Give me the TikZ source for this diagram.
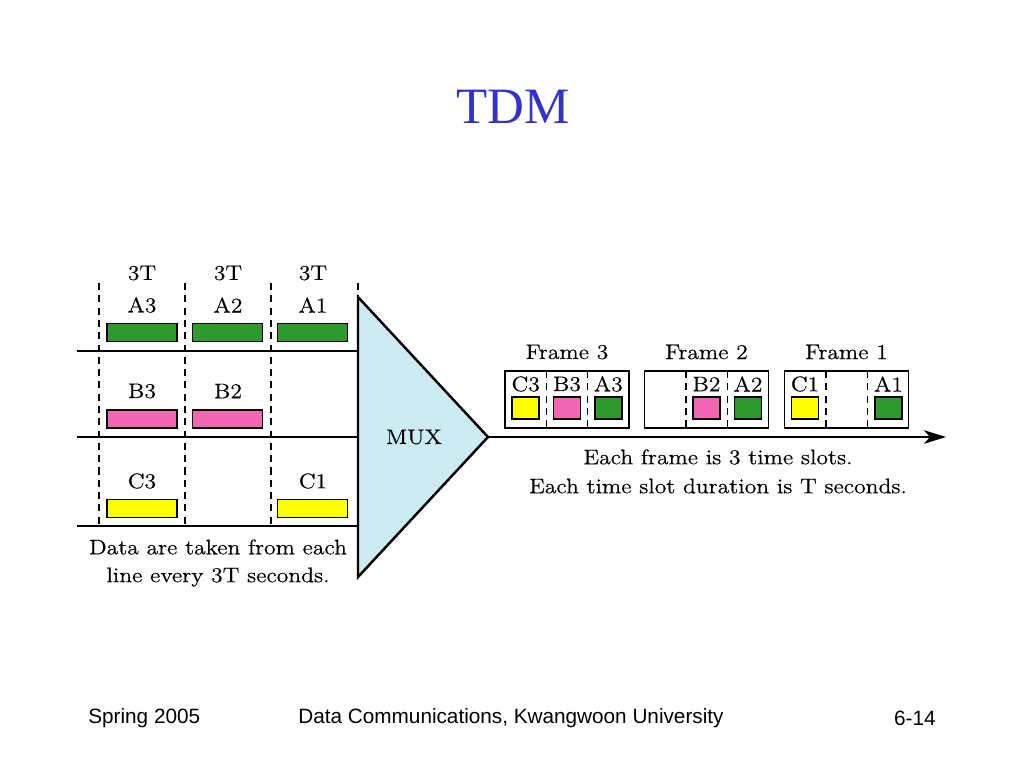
\documentclass[tikz,border=0pt]{standalone}
\usepackage{fontspec}
\newfontfamily\titlefont{Liberation Serif}
\newfontfamily\footfont{Liberation Sans}
\newfontfamily\labelfont{Latin Modern Roman}[FakeStretch=1.12, FakeBold=0.5]
\usetikzlibrary{arrows.meta,positioning}
\definecolor{slotgreen}{HTML}{2E9A2E}
\definecolor{slotpink}{HTML}{F266B3}
\definecolor{slotyellow}{HTML}{FFFF00}
\definecolor{muxblue}{HTML}{CCEBF2}
\definecolor{titleblue}{HTML}{3333CC}

\tikzset{
	lbl/.style={font=\labelfont\fontsize{12}{17}\selectfont, inner sep=0pt},
	bar/.style={draw, line width=0.9pt, minimum width=1.4cm, minimum height=0.36cm, inner sep=0pt},
	cell/.style={draw, line width=0.9pt, minimum width=0.54cm, minimum height=0.44cm, inner sep=0pt},
	framebox/.style={draw, line width=0.9pt, minimum width=2.48cm, minimum height=1.14cm, inner sep=0pt},
	tick/.style={line width=0.8pt, dash pattern=on 4pt off 3pt},
	wire/.style={line width=1.4pt},
	foot/.style={font=\footfont\fontsize{11.8}{14}\selectfont, inner sep=0pt}
}

\begin{document}
\begin{tikzpicture}[x=0.02cm,y=-0.02cm]
	\useasboundingbox (0,0) rectangle (1024,768);
	\node[font=\titlefont\fontsize{29}{34}\selectfont, text=titleblue] (title) at (513,107) {TDM};

	% input side
	\draw[tick] (99,283)--(99,526);
	\draw[tick] (185,283)--(185,526);
	\draw[tick] (271,283)--(271,526);
	\draw[tick] (358,283)--(358,297);
	\node[lbl] (t3) at (142,273) {3T};
	\node[lbl] (t2) at (228,273) {3T};
	\node[lbl] (t1) at (313,273) {3T};

	\node[lbl] (la3) at (142,305) {A3};
	\node[lbl] (la2) at (228,305) {A2};
	\node[lbl] (la1) at (313,305) {A1};
	\node[bar, fill=slotgreen] (a3) at (142,332.5) {};
	\node[bar, fill=slotgreen] (a2) at (227.5,332.5) {};
	\node[bar, fill=slotgreen] (a1) at (312.5,332.5) {};

	\node[lbl] (lb3) at (142,391) {B3};
	\node[lbl] (lb2) at (228,391) {B2};
	\node[bar, fill=slotpink] (b3) at (142,419) {};
	\node[bar, fill=slotpink] (b2) at (227.5,419) {};

	\node[lbl] (lc3) at (142,481) {C3};
	\node[lbl] (lc1) at (313,481) {C1};
	\node[bar, fill=slotyellow] (c3) at (142,508.5) {};
	\node[bar, fill=slotyellow] (c1) at (312.5,508.5) {};

	\node[lbl] (note1) at (218,547) {Data are taken from each};
	\node[lbl] (note2) at (218,577) {line every 3T seconds.};

	% mux
	\coordinate (muxtop) at (358,297);
	\coordinate (muxtip) at (488,437);
	\coordinate (muxbot) at (358,577);
	\coordinate (ina) at (77,351);
	\coordinate (inb) at (77,437);
	\coordinate (inc) at (77,526);
	\draw[wire] (ina)--(ina -| muxtop);
	\draw[wire] (inb)--(inb -| muxtop);
	\draw[wire] (inc)--(inc -| muxtop);
	\draw[wire, fill=muxblue, line join=miter] (muxtop)--(muxtip)--(muxbot)--cycle;
	\node[lbl] (mux) at (414,437) {MUX};

	% output side
	\coordinate (outend) at (946,437);
	\draw[wire, -{Stealth[length=0.44cm, width=0.27cm, inset=0.12cm]}] (muxtip)--(outend);

	\node[framebox] (f3) at (567,399.5) {};
	\node[framebox] (f2) at (706.5,399.5) {};
	\node[framebox] (f1) at (846.5,399.5) {};
	\node[lbl] (lf3) at (567,352) {Frame 3};
	\node[lbl] (lf2) at (706.5,352) {Frame 2};
	\node[lbl] (lf1) at (846.5,352) {Frame 1};

	\draw[tick] (546.3,371)--(546.3,428);
	\draw[tick] (587.7,371)--(587.7,428);
	\draw[tick] (686,371)--(686,428);
	\draw[tick] (727.5,371)--(727.5,428);
	\draw[tick] (826,371)--(826,428);
	\draw[tick] (867.5,371)--(867.5,428);

	\node[lbl] (sc3) at (525.7,384) {C3};
	\node[lbl] (sb3) at (567,384) {B3};
	\node[lbl] (sa3) at (608.3,384) {A3};
	\node[cell, fill=slotyellow] (qc3) at (525.7,408) {};
	\node[cell, fill=slotpink] (qb3) at (567,408) {};
	\node[cell, fill=slotgreen] (qa3) at (608.3,408) {};

	\node[lbl] (sb2) at (706.5,384) {B2};
	\node[lbl] (sa2) at (748,384) {A2};
	\node[cell, fill=slotpink] (qb2) at (706.5,408) {};
	\node[cell, fill=slotgreen] (qa2) at (748,408) {};

	\node[lbl] (sc1) at (805,384) {C1};
	\node[lbl] (sa1) at (888.5,384) {A1};
	\node[cell, fill=slotyellow] (qc1) at (805,408) {};
	\node[cell, fill=slotgreen] (qa1) at (888.5,408) {};

	\node[lbl] (info1) at (718,457) {Each frame is 3 time slots.};
	\node[lbl] (info2) at (718,486) {Each time slot duration is T seconds.};

	% footer
	\node[foot, anchor=west] (season) at (88,718) {Spring 2005};
	\node[foot] (course) at (511,718) {Data Communications, Kwangwoon University};
	\node[foot, anchor=east] (page) at (936,718) {6-14};
\end{tikzpicture}
\end{document}
